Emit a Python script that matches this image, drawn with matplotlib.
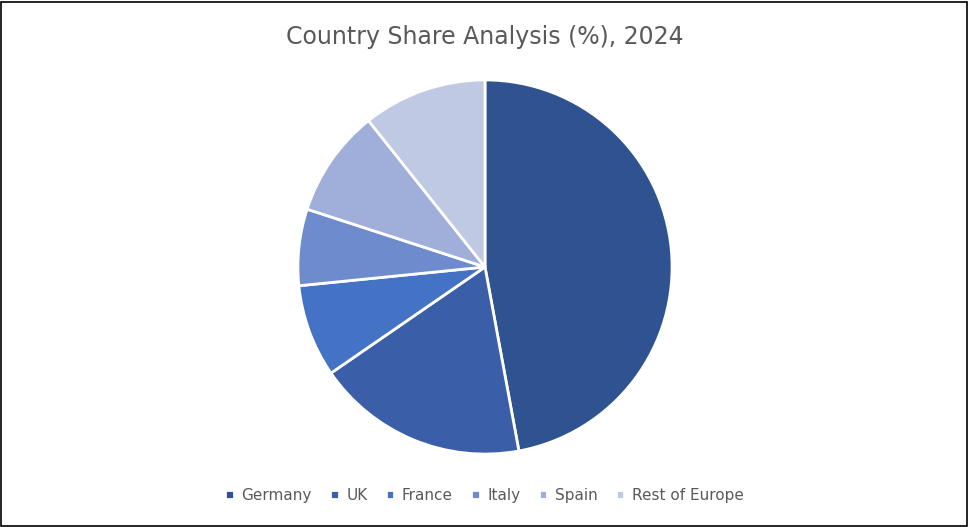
import matplotlib.pyplot as plt
from matplotlib.patches import Rectangle

# ==== Data ==== #
countries = ["Germany", "UK", "France", "Italy", "Spain", "Rest of Europe"]
shares = [47.1, 18.3, 8.0, 6.6, 9.3, 10.7]
colors = ["#2F5290", "#3A5FA8", "#4472C4", "#6E8BCD", "#9FAFD9", "#C0C9E4"]

fig = plt.figure(figsize=(9.69, 5.27), dpi=100)
fig.patches.append(Rectangle((0.001, 0.002), 0.997, 0.995, transform=fig.transFigure,
                             fill=False, edgecolor="black", linewidth=1.2))

# pie centred at (485, 267) px with radius ~188 px
cx, cy, r = 485, 267, 188
ax = fig.add_axes([(cx - r) / 969, (527 - cy - r) / 527, 2 * r / 969, 2 * r / 527])
wedges, _ = ax.pie(shares, colors=colors, startangle=90, counterclock=False,
                   wedgeprops=dict(edgecolor="white", linewidth=2))
ax.set_xlim(-1.005, 1.005)
ax.set_ylim(-1.005, 1.005)
ax.set_aspect("equal")

fig.text(0.5, 0.93, "Country Share Analysis (%), 2024", ha="center", va="center",
         fontsize=17, color="#595959")

fig.legend(wedges, countries, loc="center", bbox_to_anchor=(0.5, 0.06), ncol=6,
           frameon=False, fontsize=11, handlelength=0.55, handleheight=0.55,
           handletextpad=0.5, columnspacing=1.2, labelcolor="#595959")

fig.savefig("out.png", dpi=100)
